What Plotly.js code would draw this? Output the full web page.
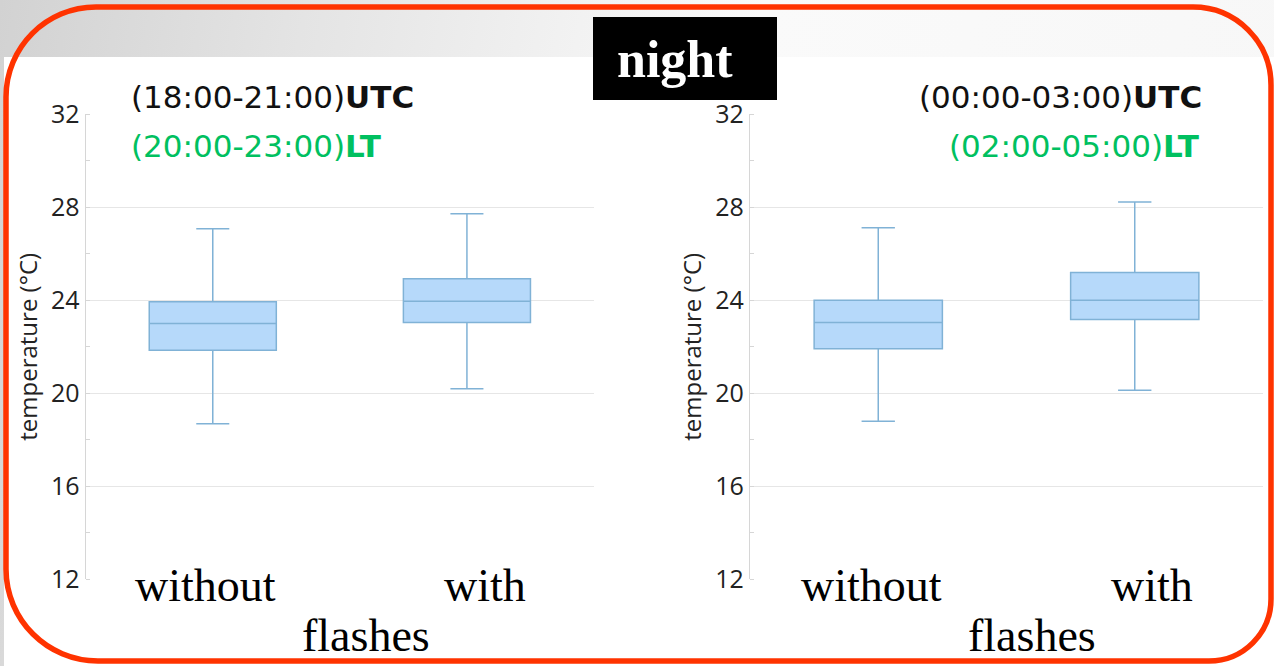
<!DOCTYPE html>
<html>
<head>
<meta charset="utf-8">
<script src="https://cdn.plot.ly/plotly-3.0.1.min.js"></script>
<style>
  html, body { margin: 0; padding: 0; }
  body { width: 1274px; height: 666px; overflow: hidden;
         background: linear-gradient(100deg, #d2d2d2 0%, #e4e4e4 22%, #f2f2f2 42%, #fafafa 55%, #f7f7f7 100%); }
  #plot { width: 1274px; height: 666px; }
</style>
</head>
<body>
<div id="plot"></div>
<script>
// ---------- data ----------
const categories = ['without', 'with'];

// left panel: (18:00-21:00) UTC
const leftLower  = [18.69, 20.20];
const leftQ1     = [21.85, 23.04];
const leftMedian = [23.00, 23.96];
const leftQ3     = [23.94, 24.93];
const leftUpper  = [27.08, 27.72];

// right panel: (00:00-03:00) UTC
const rightLower  = [18.80, 20.13];
const rightQ1     = [21.92, 23.17];
const rightMedian = [23.04, 24.00];
const rightQ3     = [24.00, 25.20];
const rightUpper  = [27.12, 28.23];

const yTickVals = [12, 16, 20, 24, 28, 32];
const yTickText = ['12', '16', '20', '24', '28', '32'];

const leftTitleUTC  = '(18:00-21:00)';
const leftTitleLT   = '(20:00-23:00)';
const rightTitleUTC = '(00:00-03:00)';
const rightTitleLT  = '(02:00-05:00)';
const yTitle = 'temperature (°C)';
const xTitle = 'flashes';
const panelLabel = 'night';

// ---------- helpers (pixel -> paper) ----------
const W = 1274, H = 666;
const X = p => p / W;
const Y = p => 1 - p / H;

const boxStyle = {
  type: 'box',
  width: 0.5,
  fillcolor: '#b6d9fa',
  line: { color: '#80b2d6', width: 1.5 },
  whiskerwidth: 0.26,
  boxpoints: false,
  hoverinfo: 'skip',
  showlegend: false
};

const traces = [
  Object.assign({}, boxStyle, {
    x: categories, q1: leftQ1, median: leftMedian, q3: leftQ3,
    lowerfence: leftLower, upperfence: leftUpper, xaxis: 'x', yaxis: 'y'
  }),
  Object.assign({}, boxStyle, {
    x: categories, q1: rightQ1, median: rightMedian, q3: rightQ3,
    lowerfence: rightLower, upperfence: rightUpper, xaxis: 'x2', yaxis: 'y2'
  })
];

const tickFont = { family: 'Open Sans, sans-serif', size: 25, color: '#222222' };
const titleFont = { family: 'Open Sans, sans-serif', size: 24, color: '#222222' };

function yAxis(anchor) {
  return {
    anchor: anchor,
    domain: [Y(579.3), Y(114.3)],
    range: [12, 32],
    tickvals: yTickVals,
    ticktext: yTickText,
    ticks: '',
    tickfont: tickFont,
    ticklabelstandoff: 0,
    showgrid: true,
    gridcolor: '#e6e6e6',
    gridwidth: 1.2,
    showline: true,
    linecolor: '#d6d6d6',
    linewidth: 1.2,
    zeroline: false,
    minor: { ticks: 'inside', ticklen: 4, tickcolor: '#d6d6d6', dtick: 2, tick0: 12, showgrid: false },
    title: { text: yTitle, font: titleFont, standoff: 6 },
    fixedrange: true
  };
}
function xAxis(domain, anchor) {
  return {
    anchor: anchor,
    domain: domain,
    type: 'category',
    range: [-0.5, 1.5],
    showticklabels: false,
    ticks: '',
    showgrid: false,
    showline: false,
    zeroline: false,
    fixedrange: true
  };
}

// rounded border path (paper coords)
function roundedPath(x0, y0, x1, y1, rTL, rTR, rBR, rBL) {
  const k = 0.5523;
  const P = (x, y) => X(x) + ',' + Y(y);
  return 'M' + P(x0 + rTL, y0) +
    ' L' + P(x1 - rTR, y0) +
    ' C' + P(x1 - rTR + k * rTR, y0) + ' ' + P(x1, y0 + rTR - k * rTR) + ' ' + P(x1, y0 + rTR) +
    ' L' + P(x1, y1 - rBR) +
    ' C' + P(x1, y1 - rBR + k * rBR) + ' ' + P(x1 - rBR + k * rBR, y1) + ' ' + P(x1 - rBR, y1) +
    ' L' + P(x0 + rBL, y1) +
    ' C' + P(x0 + rBL - k * rBL, y1) + ' ' + P(x0, y1 - rBL + k * rBL) + ' ' + P(x0, y1 - rBL) +
    ' L' + P(x0, y0 + rTL) +
    ' C' + P(x0, y0 + rTL - k * rTL) + ' ' + P(x0 + rTL - k * rTL, y0) + ' ' + P(x0 + rTL, y0) + ' Z';
}

const rectPx = (x0, y0, x1, y1, color, layer) => ({
  type: 'rect', xref: 'paper', yref: 'paper',
  x0: X(x0), x1: X(x1), y0: Y(y1), y1: Y(y0),
  fillcolor: color, line: { width: 0 }, layer: layer
});

const shapes = [
  rectPx(4, 57, 1274, 666, '#ffffff', 'below'),
  // white boxes behind the pasted texts
  rectPx(112, 60, 547, 172, '#ffffff', 'above'),
  rectPx(815, 60, 1224, 172, '#ffffff', 'above'),
  rectPx(112, 572, 600, 612, '#ffffff', 'above'),
  rectPx(777, 572, 1272, 612, '#ffffff', 'above'),
  // night label box
  rectPx(593, 17, 777, 100, '#000000', 'above'),
  // red rounded frame
  {
    type: 'path', xref: 'paper', yref: 'paper', layer: 'above',
    path: roundedPath(6, 7, 1271, 661, 90, 78, 62, 92),
    line: { color: '#ff3300', width: 5.5 }, fillcolor: 'rgba(0,0,0,0)'
  }
];

const topFont = { family: 'DejaVu Sans, sans-serif', size: 31, color: '#111111' };
const greenFont = { family: 'DejaVu Sans, sans-serif', size: 31, color: '#00c060' };
const serifFont = { family: 'Liberation Serif, serif', size: 46, color: '#000000' };

const annotations = [
  { xref: 'paper', yref: 'paper', x: X(129), y: Y(97), xanchor: 'left', yanchor: 'middle',
    text: leftTitleUTC + '<b>UTC</b>', showarrow: false, font: topFont },
  { xref: 'paper', yref: 'paper', x: X(129), y: Y(146), xanchor: 'left', yanchor: 'middle',
    text: leftTitleLT + '<b>LT</b>', showarrow: false, font: greenFont },
  { xref: 'paper', yref: 'paper', x: X(1204), y: Y(97), xanchor: 'right', yanchor: 'middle',
    text: rightTitleUTC + '<b>UTC</b>', showarrow: false, font: topFont },
  { xref: 'paper', yref: 'paper', x: X(1201), y: Y(146), xanchor: 'right', yanchor: 'middle',
    text: rightTitleLT + '<b>LT</b>', showarrow: false, font: greenFont },
  { xref: 'paper', yref: 'paper', x: X(675), y: Y(60), xanchor: 'center', yanchor: 'middle',
    text: '<b>' + panelLabel + '</b>', showarrow: false,
    font: { family: 'Liberation Serif, serif', size: 52, color: '#ffffff' } },
  // category labels
  { xref: 'x', yref: 'paper', x: categories[0], xshift: -7, y: Y(585), xanchor: 'center', yanchor: 'middle',
    text: categories[0], showarrow: false, font: serifFont },
  { xref: 'x', yref: 'paper', x: categories[1], xshift: 18, y: Y(585), xanchor: 'center', yanchor: 'middle',
    text: categories[1], showarrow: false, font: serifFont },
  { xref: 'x2', yref: 'paper', x: categories[0], xshift: -7, y: Y(585), xanchor: 'center', yanchor: 'middle',
    text: categories[0], showarrow: false, font: serifFont },
  { xref: 'x2', yref: 'paper', x: categories[1], xshift: 17, y: Y(585), xanchor: 'center', yanchor: 'middle',
    text: categories[1], showarrow: false, font: serifFont },
  { xref: 'paper', yref: 'paper', x: X(366), y: Y(635), xanchor: 'center', yanchor: 'middle',
    text: xTitle, showarrow: false, font: serifFont },
  { xref: 'paper', yref: 'paper', x: X(1032), y: Y(635), xanchor: 'center', yanchor: 'middle',
    text: xTitle, showarrow: false, font: serifFont }
];

const layout = {
  width: W, height: H,
  margin: { l: 0, r: 0, t: 0, b: 0 },
  paper_bgcolor: 'rgba(0,0,0,0)',
  plot_bgcolor: 'rgba(0,0,0,0)',
  showlegend: false,
  xaxis: xAxis([X(85.7), X(594)], 'y'),
  yaxis: yAxis('x'),
  xaxis2: xAxis([X(750), X(1263)], 'y2'),
  yaxis2: yAxis('x2'),
  shapes: shapes,
  annotations: annotations
};

Plotly.newPlot('plot', traces, layout, { displayModeBar: false, staticPlot: true });
</script>
</body>
</html>
